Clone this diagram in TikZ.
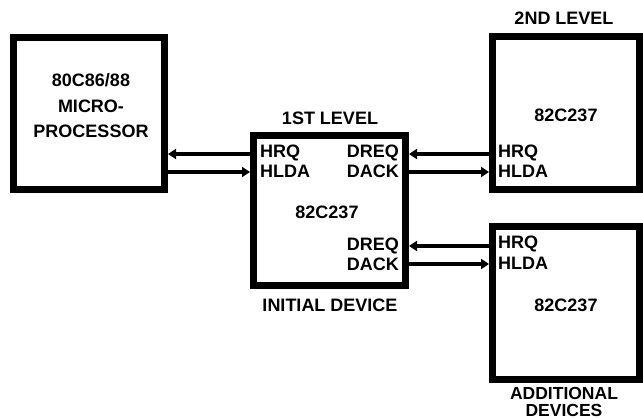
\documentclass[tikz,border=0pt]{standalone}
\usepackage{fontspec}
\setmainfont{Liberation Sans}
\usetikzlibrary{arrows.meta}
\begin{document}
\begin{tikzpicture}[x=1pt,y=-1pt,
  box/.style={draw=black,line width=7pt,rectangle,inner sep=0pt},
  lbl/.style={font=\fontsize{18}{21}\selectfont\bfseries,inner sep=0pt},
  arr/.style={line width=4pt,-{Triangle[length=8pt,width=10pt]}}]
\useasboundingbox (0,0) rectangle (643,419);
% boxes
\node[box,minimum width=151pt,minimum height=152pt] (proc) at (89,113.5) {};
\node[box,minimum width=152pt,minimum height=150pt] (ini) at (329.5,210.5) {};
\node[box,minimum width=147pt,minimum height=153pt] (sec) at (566,113) {};
\node[box,minimum width=147pt,minimum height=153pt] (add) at (566,303) {};
% texts
\node[lbl,align=center,font=\fontsize{18}{25.5}\selectfont\bfseries] (ptxt) at (91,106) {80C86/88\\MICRO-\\PROCESSOR};
\node[lbl] (lvl1) at (330,118) {1ST LEVEL};
\node[lbl,anchor=west] (hrq1) at (260,153) {HRQ};
\node[lbl,anchor=west] (hlda1) at (260,171) {HLDA};
\node[lbl,anchor=east] (dreq1) at (399,153) {DREQ};
\node[lbl,anchor=east] (dack1) at (399,171) {DACK};
\node[lbl] (c1) at (327,212) {82C237};
\node[lbl,anchor=east] (dreq2) at (399,246) {DREQ};
\node[lbl,anchor=east] (dack2) at (399,264) {DACK};
\node[lbl] (init) at (330,305) {INITIAL DEVICE};
\node[lbl] (lvl2) at (564,18) {2ND LEVEL};
\node[lbl] (c2) at (566,115) {82C237};
\node[lbl,anchor=west] (hrq2) at (498,153) {HRQ};
\node[lbl,anchor=west] (hlda2) at (498,171) {HLDA};
\node[lbl,anchor=west] (hrq3) at (498,244) {HRQ};
\node[lbl,anchor=west] (hlda3) at (498,263) {HLDA};
\node[lbl] (c3) at (566,305) {82C237};
\node[lbl,align=center,font=\fontsize{17.5}{16.5}\selectfont\bfseries] (addl) at (564,402) {ADDITIONAL\\DEVICES};
% connectors
\draw[arr] (ini.west |- 0,154) -- (proc.east |- 0,154);
\draw[arr] (proc.east |- 0,172) -- (ini.west |- 0,172);
\draw[arr] (sec.west |- 0,154) -- (ini.east |- 0,154);
\draw[arr] (ini.east |- 0,172) -- (sec.west |- 0,172);
\draw[arr] (add.west |- 0,246) -- (ini.east |- 0,246);
\draw[arr] (ini.east |- 0,264) -- (add.west |- 0,264);
\end{tikzpicture}
\end{document}
